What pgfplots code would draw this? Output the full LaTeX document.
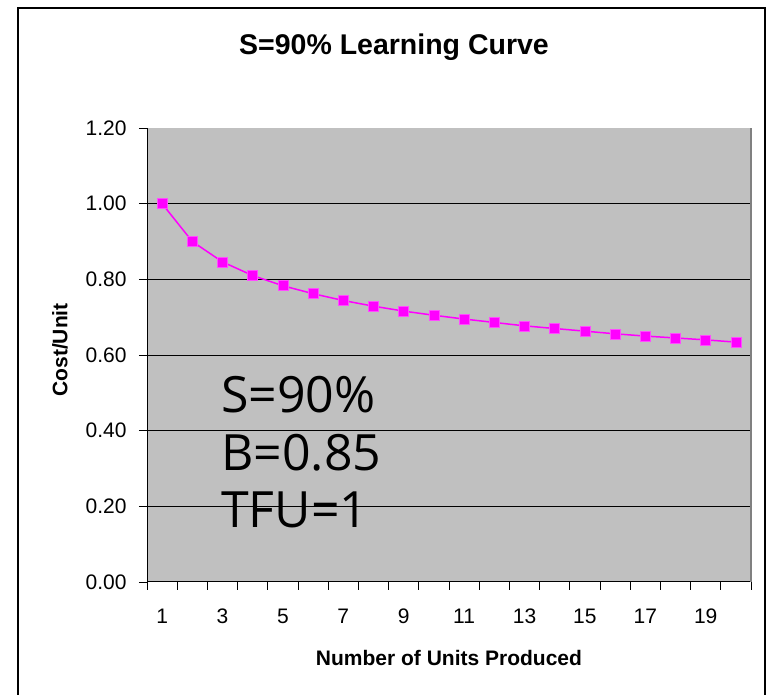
\documentclass[border=0pt]{standalone}
\usepackage{fontspec}
\setmainfont{Liberation Sans}
\newfontfamily\annfont{Open Sans}
\usepackage{pgfplots}
\pgfplotsset{compat=1.18}
\definecolor{plotgray}{HTML}{C0C0C0}
\definecolor{edgegray}{HTML}{808080}
\definecolor{magentaline}{HTML}{FF00FF}

\begin{document}
\begin{tikzpicture}[x=1pt,y=1pt]
\useasboundingbox (0,0) rectangle (768,695);
\draw[line width=2pt] (18,-2) -- (18,687) -- (765,687) -- (765,-2);
\begin{axis}[
    at={(147pt,113pt)}, anchor=south west,
    scale only axis,
    width=604pt, height=454pt,
    xmin=0.5, xmax=20.5,
    ymin=0, ymax=1.2,
    axis x line=bottom, axis y line=left,
    axis line style={-, black, line width=1pt},
    axis background/.style={fill=plotgray},
    tick align=outside,
    major tick length=0pt,
    minor tick length=8pt,
    every tick/.style={black, line width=0.8pt},
    xtick={1,3,...,19},
    minor xtick={0.5,1.5,...,20.5},
    ytick={0,0.2,0.4,0.6,0.8,1.0,1.2},
    minor ytick={0,0.2,0.4,0.6,0.8,1.0,1.2},
    extra y ticks={0.2,0.4,0.6,0.8,1.0},
    extra y tick labels={},
    extra y tick style={grid=major, major grid style={black, line width=0.8pt}},
    yticklabel style={/pgf/number format/fixed, /pgf/number format/fixed zerofill, /pgf/number format/precision=2, xshift=-17pt},
    /pgf/number format/assume math mode=true,
    tick label style={font=\fontsize{21}{25}\selectfont},
    xticklabel style={yshift=-22pt, text height=16pt, text depth=0pt},
    title={S=90\% Learning Curve},
    title style={font=\bfseries\fontsize{28.5}{34}\selectfont, at={(axis description cs:0.409,1.164)}, anchor=center},
    xlabel={Number of Units Produced},
    xlabel style={font=\bfseries\fontsize{21}{25}\selectfont, at={(axis description cs:0.5,-0.167)}, anchor=center},
    ylabel={Cost/Unit},
    ylabel style={font=\bfseries\fontsize{21}{25}\selectfont, at={(axis description cs:-0.144,0.511)}, anchor=center},
    after end axis/.code={\draw[edgegray, line width=1.2pt] (rel axis cs:1,0) -- (rel axis cs:1,1);},
    clip=false,
]
\addplot[magentaline, line width=1.5pt, mark=square*, mark size=5pt,
    mark options={fill=magentaline, draw=magentaline!70!white, line width=0.6pt}]
coordinates {
    (1,1.000) (2,0.900) (3,0.846) (4,0.810) (5,0.783)
    (6,0.762) (7,0.744) (8,0.729) (9,0.716) (10,0.705)
    (11,0.695) (12,0.686) (13,0.677) (14,0.670) (15,0.663)
    (16,0.656) (17,0.650) (18,0.645) (19,0.640) (20,0.634)
};
\node[anchor=base west, font=\annfont\fontsize{50}{60}\selectfont, inner sep=0pt] at (axis cs:2.95,0.447) {S=90\%};
\node[anchor=base west, font=\annfont\fontsize{50}{60}\selectfont, inner sep=0pt] at (axis cs:2.95,0.296) {B=0.85};
\node[anchor=base west, font=\annfont\fontsize{50}{60}\selectfont, inner sep=0pt] at (axis cs:2.95,0.145) {TFU=1};
\end{axis}
\end{tikzpicture}
\end{document}
